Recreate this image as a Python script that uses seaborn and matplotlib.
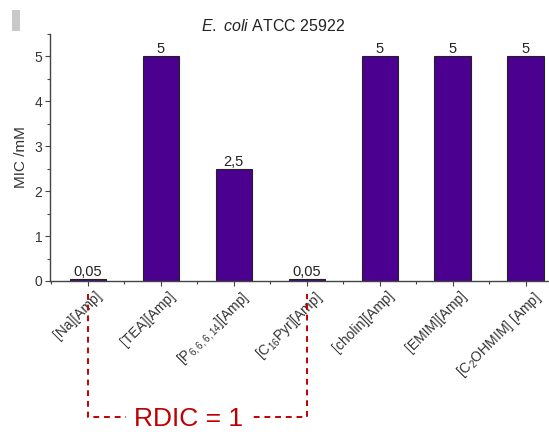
import numpy as np
import pandas as pd
import matplotlib
matplotlib.use("Agg")
import matplotlib.pyplot as plt
import matplotlib.transforms as mtransforms
from matplotlib.patches import Rectangle
from matplotlib.ticker import MultipleLocator, FixedLocator
import seaborn as sns

# MIC values per compound
compounds = [
    "[Na][Amp]",
    "[TEA][Amp]",
    r"[P$_{6,6,6,14}$][Amp]",
    r"[C$_{16}$Pyr][Amp]",
    "[cholin][Amp]",
    "[EMIM][Amp]",
    r"[C$_2$OHMIM] [Amp]",
]
mic_values = [0.05, 5, 2.5, 0.05, 5, 5, 5]

df = pd.DataFrame({"compound": compounds, "mic": mic_values})

sns.set_theme(style="white")
plt.rcParams["font.family"] = ["Liberation Sans", "DejaVu Sans"]
plt.rcParams["mathtext.fontset"] = "custom"
plt.rcParams["mathtext.rm"] = "Liberation Sans"
plt.rcParams["mathtext.it"] = "Liberation Sans:italic"

W, H = 549, 434
fig = plt.figure(figsize=(W / 100, H / 100), dpi=100)
ax = fig.add_axes([50 / W, 1 - 281 / H, 1 - 50 / W, 247 / H])

bar_color = "#4B0090"
sns.barplot(data=df, x="compound", y="mic", color=bar_color, saturation=1,
            width=0.5, edgecolor="#222222", linewidth=0.8, ax=ax)

ax.set_xlim(-0.52, 6.32)
ax.set_ylim(0, 5.5)

labels = [f"{v:g}".replace(".", ",") for v in mic_values]
ax.bar_label(ax.containers[0], labels=labels, padding=0, fontsize=10.5, color="#222222")

fig.text(273 / W, 1 - 26 / H, r"$\it{E.\ coli}$ ATCC 25922", fontsize=11.5,
         color="#222222", ha="center", va="center")
ax.set_xlabel("")
ax.set_ylabel("MIC /mM", fontsize=11, color="#333333")
ax.yaxis.set_label_coords((28 - 50) / (W - 50), 0.5)

for side in ("top", "right"):
    ax.spines[side].set_visible(False)
for side in ("left", "bottom"):
    ax.spines[side].set_color("#444444")
    ax.spines[side].set_linewidth(1.0)

ax.yaxis.set_major_locator(MultipleLocator(1))
ax.yaxis.set_minor_locator(MultipleLocator(0.5))
ax.xaxis.set_minor_locator(FixedLocator(np.arange(-0.5, 7, 1)))
ax.tick_params(axis="both", which="major", direction="out", length=3.5, width=0.8,
               color="#444444", labelsize=10, labelcolor="#333333", bottom=True, left=True)
ax.tick_params(axis="both", which="minor", direction="out", length=2.2, width=0.8,
               color="#444444", bottom=True, left=True)
ax.tick_params(axis="y", which="major", pad=2)

ax.set_xticks(range(len(compounds)))
ax.set_xticklabels(compounds, rotation=45, ha="right", rotation_mode="anchor",
                   fontsize=10, color="#333333")
shift = mtransforms.ScaledTranslation(7 / 100, 2 / 100, fig.dpi_scale_trans)
for lbl in ax.get_xticklabels():
    lbl.set_transform(lbl.get_transform() + shift)

# Bracket connecting the two compounds with equal MIC
red = "#C00000"
trans = mtransforms.blended_transform_factory(ax.transData, ax.transAxes)
y_top = (281 - 294) / 247
y_bot = (281 - 417) / 247
ax.plot([0, 0, 3, 3], [y_top, y_bot, y_bot, y_top], transform=trans,
        color=red, linestyle=(0, (3, 2.5)), linewidth=1.4, clip_on=False)
ax.text(1.38, (281 - 419) / 247, "RDIC = 1", transform=trans, color=red, fontsize=19,
        ha="center", va="center",
        bbox=dict(facecolor="white", edgecolor="none", pad=6))

# small grey marker in the corner
fig.patches.append(Rectangle((12 / W, 1 - 31 / H), 8 / W, 21 / H,
                             transform=fig.transFigure, facecolor="#C8C8C8",
                             edgecolor="none"))

fig.savefig("out.png", dpi=100)
